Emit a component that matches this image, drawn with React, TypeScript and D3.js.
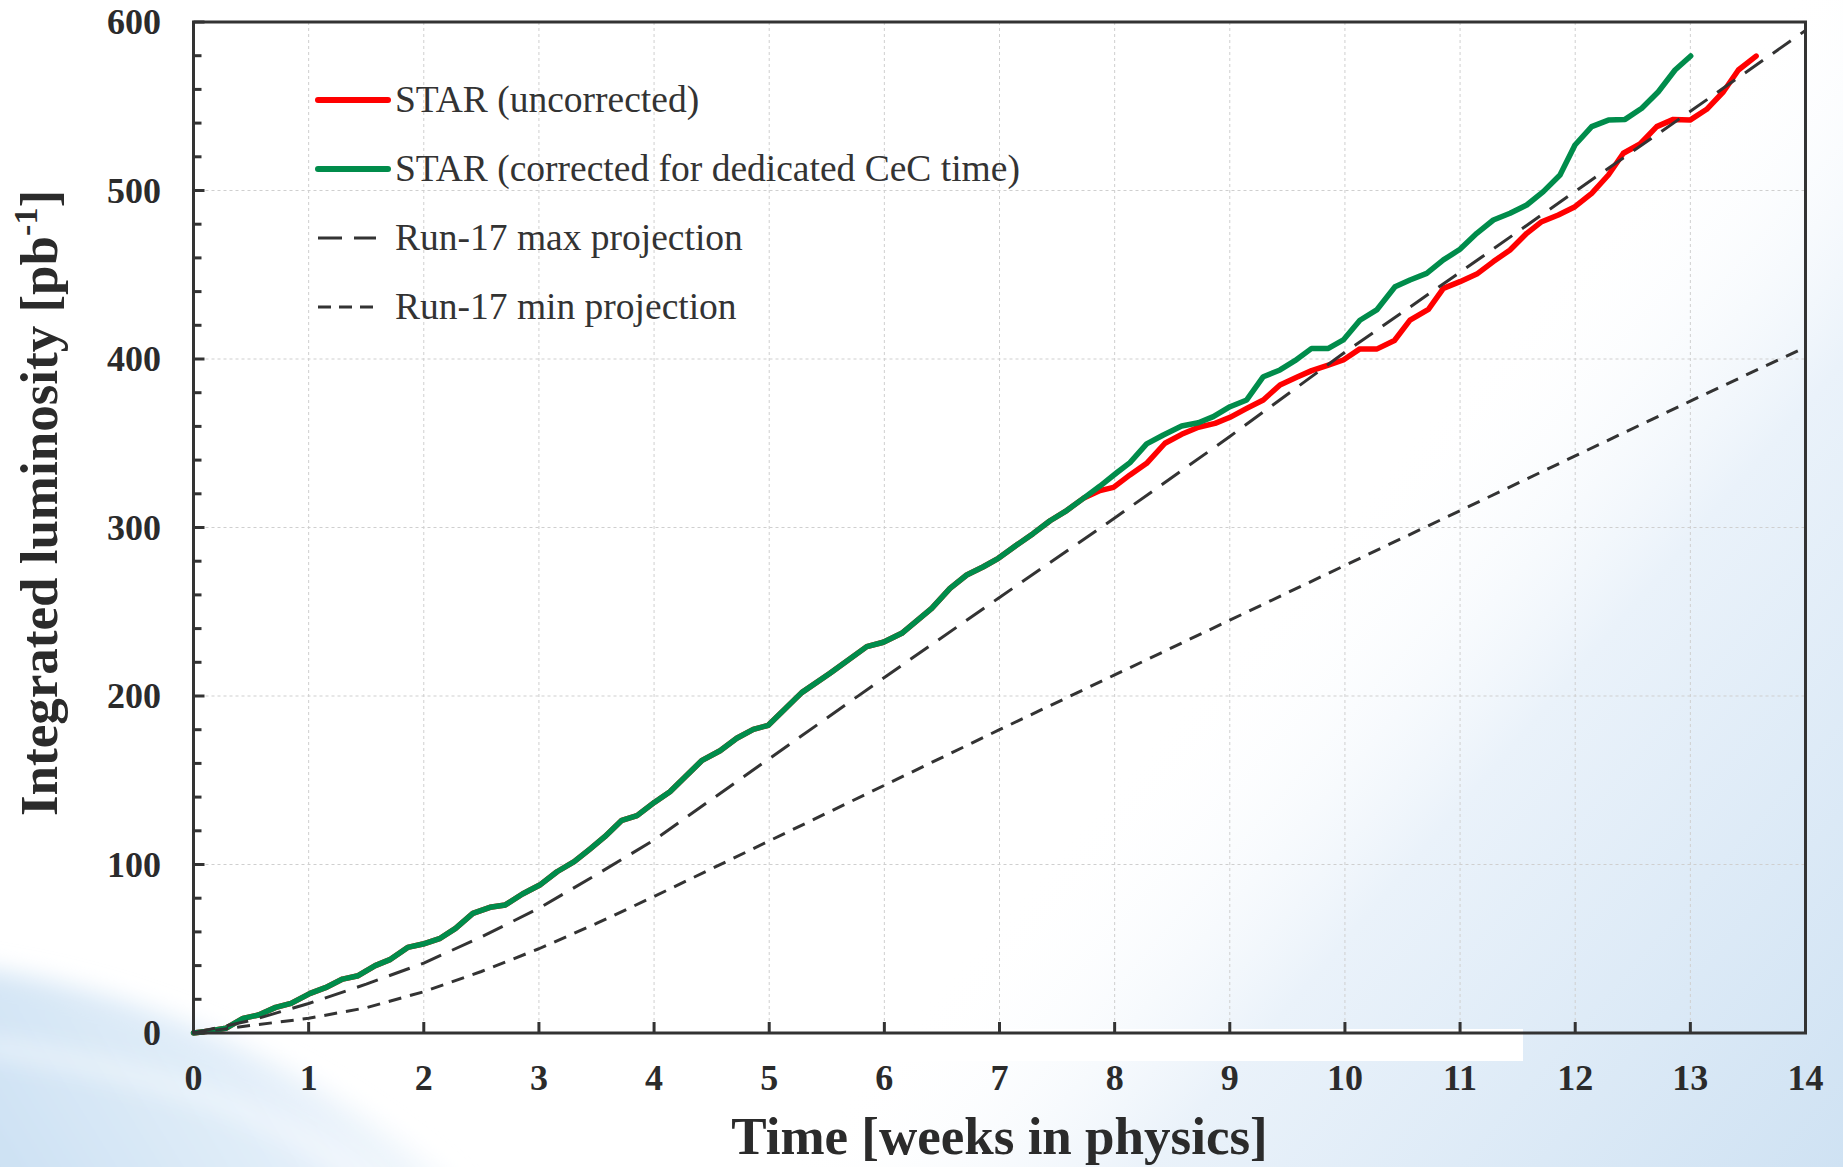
import React from "react";
import * as d3 from "d3";

const W = 1843;
const H = 1167;
const PLOT = { left: 193.5, right: 1805.5, top: 22, bottom: 1033 };

const xTickValues = [0, 1, 2, 3, 4, 5, 6, 7, 8, 9, 10, 11, 12, 13, 14];
const yTickValues = [0, 100, 200, 300, 400, 500, 600];

// shared part (red lies under green until ~7.7 weeks)
const sharedWeeks = [0, 0.14, 0.28, 0.43, 0.565, 0.714, 0.847, 1.013, 1.146, 1.295, 1.43, 1.578, 1.711, 1.86, 1.993, 2.143, 2.276, 2.426, 2.575, 2.708, 2.857, 3.007, 3.157, 3.306, 3.44, 3.572, 3.72, 3.852, 4.005, 4.138, 4.413, 4.573, 4.718, 4.862, 4.992, 5.282, 5.528, 5.847, 5.991, 6.151, 6.411, 6.57, 6.715, 6.86, 6.99, 7.149, 7.294, 7.439, 7.569, 7.728];
const sharedLumi = [0, 1.2, 2.8, 8.7, 10.7, 15.2, 17.6, 23.5, 26.9, 32, 34, 40, 43.7, 50.8, 52.8, 56.2, 62.1, 71, 74.6, 76, 82.5, 87.8, 95.7, 101.7, 109, 116.5, 126.2, 129, 137, 143.2, 161.6, 167.5, 174.9, 180.2, 182.6, 202, 213.5, 229.3, 231.9, 237.2, 252, 263.9, 271.8, 276.7, 281.7, 289.6, 296.5, 304, 309.4, 317.3];

const greenWeeks = [7.873, 8.018, 8.133, 8.278, 8.423, 8.582, 8.727, 8.857, 9.002, 9.147, 9.291, 9.436, 9.566, 9.711, 9.856, 9.986, 10.13, 10.276, 10.435, 10.565, 10.71, 10.855, 10.999, 11.145, 11.289, 11.434, 11.579, 11.723, 11.868, 11.998, 12.143, 12.288, 12.433, 12.578, 12.722, 12.867, 13.003];
const greenLumi = [324.6, 332.5, 338.5, 349.6, 354.9, 360.2, 362.2, 365.8, 371.7, 375.7, 389.5, 393.5, 399, 406.3, 406.3, 411.3, 423, 429.1, 442.9, 446.9, 450.8, 458.8, 465.1, 474.6, 482.5, 486.5, 491.4, 499.3, 509.2, 527, 537.9, 541.8, 542.2, 548.8, 558.6, 571.5, 579.8];

const redWeeks = [7.873, 7.99, 8.133, 8.278, 8.437, 8.582, 8.727, 8.872, 9.002, 9.147, 9.291, 9.436, 9.581, 9.711, 9.856, 9.986, 10.13, 10.28, 10.43, 10.565, 10.725, 10.855, 10.999, 11.145, 11.289, 11.434, 11.579, 11.709, 11.853, 11.998, 12.143, 12.288, 12.418, 12.563, 12.708, 12.852, 12.997, 13.142, 13.287, 13.417, 13.571];
const redLumi = [321.9, 323.8, 331.2, 338.1, 350, 355.3, 359.5, 361.8, 365.4, 370.7, 375.7, 384.6, 389.1, 393.1, 396.4, 399.4, 406, 406, 411, 423.1, 429.5, 441.9, 445.9, 450.4, 457.8, 464.7, 474.6, 481.5, 485.5, 490.4, 498.3, 509.2, 522.1, 527.6, 537.9, 542.2, 541.8, 548.2, 558.6, 571.5, 579.8];

const maxWeeks = [0, 0.5, 1, 1.5, 2, 2.5, 3, 3.5, 4, 5, 6, 7, 8, 9, 10, 11, 12, 13, 14];
const maxLumi = [0, 7.5, 17.5, 29, 41.5, 57, 74, 94, 114.5, 162.8, 211, 258.5, 305.6, 354, 404, 451.5, 499.5, 547, 595];

const minWeeks = [0, 0.5, 1, 1.5, 2, 2.5, 3, 3.5, 4, 5, 6, 7, 8, 9, 10, 11, 12, 13, 14];
const minLumi = [0, 4.5, 8.7, 15, 24.5, 36.5, 50, 65, 81, 114, 147, 180, 212.5, 245, 277.5, 310, 342.5, 375, 407];

const legendLabels = [
  "STAR (uncorrected)",
  "STAR (corrected for dedicated CeC time)",
  "Run-17 max projection",
  "Run-17 min projection",
];

const FONT = "'Liberation Serif', 'Times New Roman', Times, serif";
const AXIS = "#333333";
const RED = "#ff0000";
const GREEN = "#008c4b";

type Pt = [number, number];
const zip = (a: number[], b: number[]): Pt[] => a.map((v, i) => [v, b[i]]);

export default function App() {
  const x = d3.scaleLinear().domain([0, 14]).range([PLOT.left, PLOT.right]);
  const y = d3.scaleLinear().domain([0, 600]).range([PLOT.bottom, PLOT.top]);
  const line = d3
    .line<Pt>()
    .x((d) => x(d[0]))
    .y((d) => y(d[1]));

  const shared = zip(sharedWeeks, sharedLumi);
  const greenData = shared.concat(zip(greenWeeks, greenLumi));
  const redData = shared.concat(zip(redWeeks, redLumi));
  const maxData = zip(maxWeeks, maxLumi);
  const minData = zip(minWeeks, minLumi);

  const minorY = d3.range(0, 601, 20).filter((v) => v % 100 !== 0);

  const legendStyles = [
    { stroke: RED, width: 6, dash: undefined as string | undefined },
    { stroke: GREEN, width: 6, dash: undefined as string | undefined },
    { stroke: AXIS, width: 3, dash: "24 12" },
    { stroke: AXIS, width: 3, dash: "13 8" },
  ];

  return (
    <svg
      width={W}
      height={H}
      style={{ position: "absolute", left: 0, top: 0, display: "block" }}
      xmlns="http://www.w3.org/2000/svg"
    >
      <defs>
        <linearGradient id="bgBR" gradientUnits="userSpaceOnUse" x1={1230} y1={640} x2={1843} y2={1167}>
          <stop offset="0" stopColor="#ffffff" stopOpacity={0} />
          <stop offset="0.35" stopColor="#eaf2fa" stopOpacity={1} />
          <stop offset="1" stopColor="#cfe2f3" stopOpacity={1} />
        </linearGradient>
        <linearGradient id="bgBL" gradientUnits="userSpaceOnUse" x1={0} y1={1167} x2={380} y2={930}>
          <stop offset="0" stopColor="#cde1f3" />
          <stop offset="0.55" stopColor="#e2eef9" />
          <stop offset="1" stopColor="#ffffff" />
        </linearGradient>
        <filter id="soft" filterUnits="userSpaceOnUse" x={-200} y={800} width={1400} height={500}>
          <feGaussianBlur stdDeviation="12" />
        </filter>
      </defs>

      {/* background */}
      <rect x={0} y={0} width={W} height={H} fill="#ffffff" />
      <rect x={0} y={0} width={W} height={H} fill="url(#bgBR)" />
      <path
        d="M-40,965 C150,990 330,1070 470,1200 L-40,1200 Z"
        fill="url(#bgBL)"
        filter="url(#soft)"
      />
      <path
        d="M-20,1045 C150,1070 280,1110 380,1190"
        fill="none"
        stroke="#ffffff"
        strokeOpacity={0.6}
        strokeWidth={14}
        filter="url(#soft)"
      />
      <rect x={760} y={1029} width={763} height={32} fill="#ffffff" />

      {/* grid */}
      <g stroke="#cfcfcf" strokeWidth={1} strokeDasharray="3 3">
        {xTickValues.slice(1, -1).map((t) => (
          <line key={"gx" + t} x1={x(t)} x2={x(t)} y1={PLOT.top} y2={PLOT.bottom} />
        ))}
        {yTickValues.slice(1, -1).map((t) => (
          <line key={"gy" + t} x1={PLOT.left} x2={PLOT.right} y1={y(t)} y2={y(t)} />
        ))}
      </g>

      {/* data lines */}
      <g fill="none" strokeLinejoin="round" strokeLinecap="round">
        <path d={line(redData) || ""} stroke={RED} strokeWidth={5.5} />
        <path d={line(greenData) || ""} stroke={GREEN} strokeWidth={5.5} />
        <path d={line(maxData) || ""} stroke={AXIS} strokeWidth={3} strokeDasharray="22 12" strokeLinecap="butt" />
        <path d={line(minData) || ""} stroke={AXIS} strokeWidth={3} strokeDasharray="13 9" strokeLinecap="butt" />
      </g>

      {/* axes frame */}
      <rect
        x={PLOT.left}
        y={PLOT.top}
        width={PLOT.right - PLOT.left}
        height={PLOT.bottom - PLOT.top}
        fill="none"
        stroke={AXIS}
        strokeWidth={3}
      />
      <g stroke={AXIS} strokeWidth={3}>
        {xTickValues.map((t) => (
          <line key={"tx" + t} x1={x(t)} x2={x(t)} y1={PLOT.bottom} y2={PLOT.bottom - 11} />
        ))}
        {yTickValues.map((t) => (
          <line key={"ty" + t} x1={PLOT.left} x2={PLOT.left + 11} y1={y(t)} y2={y(t)} />
        ))}
        {minorY.map((t) => (
          <line key={"tm" + t} x1={PLOT.left} x2={PLOT.left + 8} y1={y(t)} y2={y(t)} />
        ))}
      </g>

      {/* tick labels */}
      <g fontFamily={FONT} fontWeight="bold" fontSize={36} fill="#2b2b2b">
        {xTickValues.map((t) => (
          <text key={"lx" + t} x={x(t)} y={1090} textAnchor="middle">
            {t}
          </text>
        ))}
        {yTickValues.map((t) => (
          <text key={"ly" + t} x={161} y={y(t) + 12} textAnchor="end">
            {t}
          </text>
        ))}
      </g>

      {/* axis titles */}
      <text
        x={(PLOT.left + PLOT.right) / 2}
        y={1154}
        textAnchor="middle"
        fontFamily={FONT}
        fontWeight="bold"
        fontSize={53}
        fill="#2b2b2b"
      >
        Time [weeks in physics]
      </text>
      <text
        transform={`translate(57, ${503}) rotate(-90)`}
        textAnchor="middle"
        fontFamily={FONT}
        fontWeight="bold"
        fontSize={53}
        fill="#2b2b2b"
      >
        Integrated luminosity [pb
        <tspan fontSize={34} dy={-20}>-1</tspan>
        <tspan dy={20}>]</tspan>
      </text>

      {/* legend */}
      <g>
        {legendLabels.map((label, i) => {
          const cy = 100 + i * 69;
          const st = legendStyles[i];
          return (
            <g key={"leg" + i}>
              <line
                x1={318}
                x2={i < 2 ? 388 : 376}
                y1={cy}
                y2={cy}
                stroke={st.stroke}
                strokeWidth={st.width}
                strokeDasharray={st.dash}
                strokeLinecap={i < 2 ? "round" : "butt"}
              />
              <text x={395} y={cy + 12} fontFamily={FONT} fontSize={37.5} fill="#333333">
                {label}
              </text>
            </g>
          );
        })}
      </g>
    </svg>
  );
}
